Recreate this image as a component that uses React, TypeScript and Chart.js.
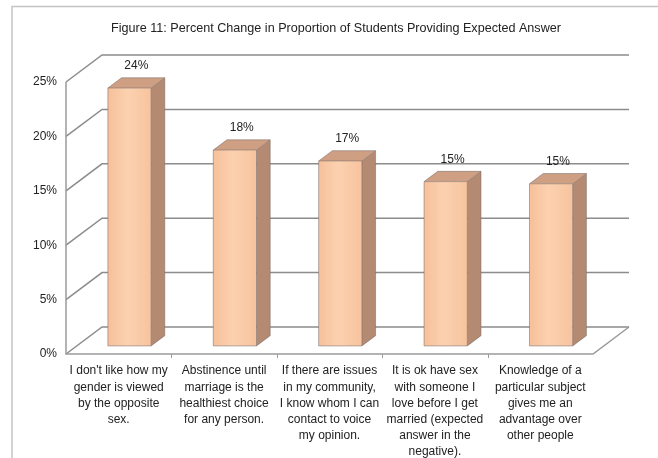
import React, { useEffect, useRef } from 'react';
import { Chart, registerables } from 'chart.js';

Chart.register(...registerables);

const TITLE = 'Figure 11: Percent Change in Proportion of Students Providing Expected Answer';

const CATEGORIES: string[][] = [
  ["I don't like how my", 'gender is viewed', 'by the opposite', 'sex.'],
  ['Abstinence until', 'marriage is the', 'healthiest choice', 'for any person.'],
  ['If there are issues', 'in my community,', 'I know whom I can', 'contact to voice', 'my opinion.'],
  ['It is ok have sex', 'with someone I', 'love before I get', 'married (expected', 'answer in the', 'negative).'],
  ['Knowledge of a', 'particular subject', 'gives me an', 'advantage over', 'other people'],
];

const VALUES: number[] = [23.7, 18.0, 17.0, 15.1, 14.9];

const Y_MIN = 0;
const Y_MAX = 25;
const Y_STEP = 5;

// oblique 3D projection of the depth axis
const DEPTH_DX = 36;
const DEPTH_DY = -27;
const BAR_FRONT = 0.3;
const BAR_BACK = 0.68;

const FONT = "'Liberation Sans', Arial, sans-serif";

const threeD = {
  id: 'threeD',
  beforeDraw(chart: any) {
    const ctx = chart.ctx;
    ctx.save();
    ctx.fillStyle = '#ffffff';
    ctx.fillRect(0, 0, chart.width, chart.height);
    // outer frame
    ctx.strokeStyle = '#c4c4c4';
    ctx.lineWidth = 1.5;
    ctx.beginPath();
    ctx.moveTo(12, chart.height);
    ctx.lineTo(12, 6.5);
    ctx.lineTo(chart.width, 6.5);
    ctx.stroke();
    // title
    ctx.fillStyle = '#222';
    ctx.font = `12.6px ${FONT}`;
    ctx.textAlign = 'center';
    ctx.textBaseline = 'middle';
    ctx.fillText(TITLE, 336, 29);
    ctx.restore();
  },
  beforeDatasetsDraw(chart: any) {
    const ctx = chart.ctx;
    const { left, right, top, bottom } = chart.chartArea;
    const ys = chart.scales.y;
    const xs = chart.scales.x;
    ctx.save();
    ctx.lineWidth = 1.5;
    ctx.strokeStyle = '#8c8c8c';
    ys.ticks.forEach((t: any) => {
      const y = ys.getPixelForValue(t.value);
      ctx.beginPath();
      ctx.moveTo(left, y);
      ctx.lineTo(left + DEPTH_DX, y + DEPTH_DY);
      ctx.lineTo(right + DEPTH_DX, y + DEPTH_DY);
      ctx.stroke();
    });
    // floor front edge and right edge, front-left vertical edge
    ctx.strokeStyle = '#9a9a9a';
    ctx.beginPath();
    ctx.moveTo(left, top);
    ctx.lineTo(left, bottom);
    ctx.lineTo(right, bottom);
    ctx.lineTo(right + DEPTH_DX, bottom + DEPTH_DY);
    ctx.stroke();
    // category separators
    ctx.lineWidth = 1;
    for (let i = 1; i < CATEGORIES.length; i++) {
      const x = Math.round((xs.getPixelForTick(i - 1) + xs.getPixelForTick(i)) / 2) + 0.5;
      ctx.beginPath();
      ctx.moveTo(x, bottom);
      ctx.lineTo(x, bottom + 4);
      ctx.stroke();
    }
    ctx.restore();
  },
  afterDatasetsDraw(chart: any) {
    const ctx = chart.ctx;
    const meta = chart.getDatasetMeta(0);
    const ox = DEPTH_DX * BAR_FRONT;
    const oy = DEPTH_DY * BAR_FRONT;
    const ddx = DEPTH_DX * (BAR_BACK - BAR_FRONT);
    const ddy = DEPTH_DY * (BAR_BACK - BAR_FRONT);
    ctx.save();
    meta.data.forEach((el: any, i: number) => {
      const p = el.getProps(['x', 'y', 'base', 'width'], true);
      const l = p.x - p.width / 2 + ox;
      const r = p.x + p.width / 2 + ox;
      const t = p.y + oy;
      const b = p.base + oy;
      // front
      const g = ctx.createLinearGradient(l, 0, r, 0);
      g.addColorStop(0, '#f6c09a');
      g.addColorStop(0.45, '#fcd1b0');
      g.addColorStop(1, '#f7c39e');
      ctx.fillStyle = g;
      ctx.fillRect(l, t, r - l, b - t);
      // side
      ctx.fillStyle = '#b48a73';
      ctx.beginPath();
      ctx.moveTo(r, t);
      ctx.lineTo(r + ddx, t + ddy);
      ctx.lineTo(r + ddx, b + ddy);
      ctx.lineTo(r, b);
      ctx.closePath();
      ctx.fill();
      // top
      ctx.fillStyle = '#cf9f84';
      ctx.beginPath();
      ctx.moveTo(l, t);
      ctx.lineTo(l + ddx, t + ddy);
      ctx.lineTo(r + ddx, t + ddy);
      ctx.lineTo(r, t);
      ctx.closePath();
      ctx.fill();
      // outlines
      ctx.strokeStyle = 'rgba(120,110,105,0.55)';
      ctx.lineWidth = 1;
      ctx.beginPath();
      ctx.moveTo(l, b);
      ctx.lineTo(l, t);
      ctx.lineTo(l + ddx, t + ddy);
      ctx.lineTo(r + ddx, t + ddy);
      ctx.lineTo(r + ddx, b + ddy);
      ctx.lineTo(r, b);
      ctx.closePath();
      ctx.moveTo(l, t);
      ctx.lineTo(r, t);
      ctx.lineTo(r, b);
      ctx.moveTo(r, t);
      ctx.lineTo(r + ddx, t + ddy);
      ctx.stroke();
      // label
      ctx.fillStyle = '#222';
      ctx.font = `12px ${FONT}`;
      ctx.textAlign = 'center';
      ctx.textBaseline = 'middle';
      ctx.fillText(`${Math.round(VALUES[i])}%`, (l + r + ddx) / 2, t + ddy - 12);
    });
    ctx.restore();
  },
};

export default function App() {
  const ref = useRef<HTMLCanvasElement | null>(null);
  useEffect(() => {
    if (!ref.current) return;
    const chart = new Chart(ref.current, {
      type: 'bar',
      data: {
        labels: CATEGORIES,
        datasets: [
          {
            data: VALUES,
            backgroundColor: 'rgba(0,0,0,0)',
            borderWidth: 0,
            categoryPercentage: 1,
            barPercentage: 0.41,
          },
        ],
      },
      options: {
        responsive: false,
        animation: false,
        layout: { padding: { top: 82, right: 65, left: 0, bottom: 0 } },
        plugins: {
          legend: { display: false },
          title: { display: false },
          tooltip: { enabled: false },
        },
        scales: {
          x: {
            grid: { display: false, drawTicks: false },
            border: { display: false },
            ticks: {
              autoSkip: false,
              maxRotation: 0,
              minRotation: 0,
              padding: 9,
              color: '#222',
              font: { family: FONT, size: 12, lineHeight: 1.35 },
            },
            afterFit: (s: any) => {
              s.height = 104;
            },
          },
          y: {
            min: Y_MIN,
            max: Y_MAX,
            grid: { display: false, drawTicks: false },
            border: { display: false },
            ticks: {
              stepSize: Y_STEP,
              padding: 9,
              color: '#222',
              font: { family: FONT, size: 12 },
              callback: (v: any) => `${v}%`,
            },
            afterFit: (s: any) => {
              s.width = 66;
            },
          },
        },
      },
      plugins: [threeD],
    });
    return () => chart.destroy();
  }, []);
  return (
    <div style={{ position: 'fixed', left: 0, top: 0, width: 658, height: 458 }}>
      <canvas ref={ref} width={658} height={458} style={{ display: 'block' }} />
    </div>
  );
}
